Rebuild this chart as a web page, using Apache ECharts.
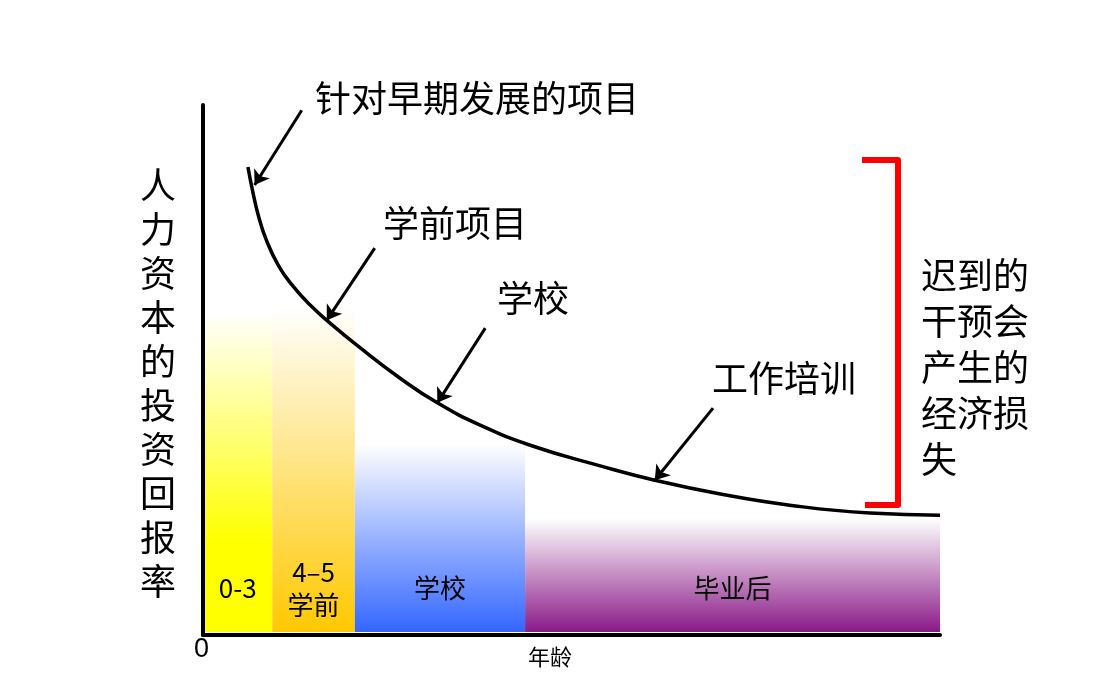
<!DOCTYPE html>
<html>
<head>
<meta charset="utf-8">
<script src="https://cdn.jsdelivr.net/npm/echarts@6/dist/echarts.min.js"></script>
<style>
  html, body { margin: 0; padding: 0; background: #fff; }
  #main { width: 1094px; height: 700px; }
</style>
</head>
<body>
<div id="main"></div>
<script>
// 曲线：年龄 -> 人力资本投资回报率（相对单位）
var ageX    = [6.1, 6.7, 7.5, 8.6, 10.2, 12.1, 14.5, 17.2, 21.3, 26.7, 31.8, 37.6, 44.4, 53.9, 61.3, 70.2, 79.6, 90.5, 100];
var returnY = [88.3, 84.0, 79.2, 74.5, 69.8, 66.0, 62.3, 58.9, 54.2, 48.5, 43.8, 39.6, 35.8, 31.9, 29.2, 26.6, 24.5, 23.0, 22.6];

// 阶段色带
var stageNames = ['0-3', '4–5\n学前', '学校', '毕业后'];
var stageStart = [0, 9.4, 20.6, 43.7];
var stageEnd   = [9.4, 20.6, 43.7, 100];
var stageTop   = [61, 62, 36, 22];

// 色带颜色与渐变到满色的位置
var stageColor = ['#ffff00', '#ffc800', '#3366ff', '#8a1a88'];
var stageFull  = [0.72, 1, 1, 1];

// 注释箭头（起点 -> 曲线上的点）
var arrowFrom = [[13.4, 99.0], [23.3, 73.0], [38.3, 57.9], [69.2, 42.8]];
var arrowTo   = [[7.0, 84.9], [16.8, 59.4], [31.8, 43.8], [61.3, 29.2]];

var chart = echarts.init(document.getElementById('main'));

var curveData = ageX.map(function (x, i) { return [x, returnY[i]]; });
var stageData = stageNames.map(function (n, i) { return [stageStart[i], stageEnd[i], stageTop[i], i]; });
var arrowData = arrowFrom.map(function (p, i) { return [{ coord: p }, { coord: arrowTo[i] }]; });

var cjk = '"Noto Sans CJK SC", sans-serif';

var option = {
    animation: false,
    grid: { left: 203, right: 154, top: 105, bottom: 65 },
    xAxis: {
        type: 'value', min: 0, max: 100, z: 10,
        axisLine: { show: true, onZero: false, lineStyle: { color: '#000', width: 4 } },
        axisTick: { show: false },
        axisLabel: { show: false },
        splitLine: { show: false }
    },
    yAxis: {
        type: 'value', min: 0, max: 100, z: 10,
        axisLine: { show: true, onZero: false, lineStyle: { color: '#000', width: 4 } },
        axisTick: { show: false },
        axisLabel: { show: false },
        splitLine: { show: false }
    },
    series: [{
        type: 'custom',
        z: 1,
        data: stageData,
        renderItem: function (params, api) {
            var i = api.value(3);
            var tl = api.coord([api.value(0), api.value(2)]);
            var br = api.coord([api.value(1), 0]);
            var mid = api.coord([(api.value(0) + api.value(1)) / 2, 8.8]);
            return {
                type: 'group',
                children: [{
                    type: 'rect',
                    shape: { x: tl[0], y: tl[1], width: br[0] - tl[0], height: br[1] - tl[1] - 3 },
                    style: {
                        fill: new echarts.graphic.LinearGradient(0, 0, 0, 1, [
                            { offset: 0, color: '#ffffff' },
                            { offset: stageFull[i], color: stageColor[i] },
                            { offset: 1, color: stageColor[i] }
                        ])
                    }
                }, {
                    type: 'text',
                    style: {
                        x: mid[0], y: mid[1],
                        text: stageNames[i],
                        align: 'center', verticalAlign: 'middle',
                        font: '26px ' + cjk, lineHeight: 33,
                        fill: '#000'
                    }
                }]
            };
        }
    }, {
        type: 'line',
        z: 3,
        data: curveData,
        smooth: true,
        showSymbol: false,
        lineStyle: { color: '#000', width: 3.5 }
    }, {
        type: 'line',
        z: 4,
        data: [],
        markLine: {
            silent: true,
            symbol: ['none', 'arrow'],
            symbolSize: 14,
            label: { show: false },
            lineStyle: { color: '#000', width: 3, type: 'solid' },
            data: arrowData
        }
    }],
    graphic: [
        { type: 'text', left: 315, top: 80, style: { text: '针对早期发展的项目', font: '36px ' + cjk, fill: '#000' } },
        { type: 'text', left: 383, top: 205, style: { text: '学前项目', font: '36px ' + cjk, fill: '#000' } },
        { type: 'text', left: 497, top: 280, style: { text: '学校', font: '36px ' + cjk, fill: '#000' } },
        { type: 'text', left: 712, top: 360, style: { text: '工作培训', font: '36px ' + cjk, fill: '#000' } },
        { type: 'text', left: 140, top: 163, style: { text: '人\n力\n资\n本\n的\n投\n资\n回\n报\n率', font: '36px ' + cjk, lineHeight: 44, fill: '#000' } },
        { type: 'text', left: 921, top: 252, style: { text: '迟到的\n干预会\n产生的\n经济损\n失', font: '36px ' + cjk, lineHeight: 46, fill: '#000' } },
        { type: 'text', left: 528, top: 646, style: { text: '年龄', font: '22px ' + cjk, fill: '#000' } },
        { type: 'text', left: 194, top: 636, style: { text: '0', font: '27px "Liberation Sans", sans-serif', fill: '#000' } },
        {
            type: 'polyline',
            shape: { points: [[862, 160], [898, 160], [898, 505], [865, 505]] },
            style: { fill: null, stroke: '#ff0000', lineWidth: 6, lineJoin: 'round' }
        }
    ]
};

chart.setOption(option);
</script>
</body>
</html>
